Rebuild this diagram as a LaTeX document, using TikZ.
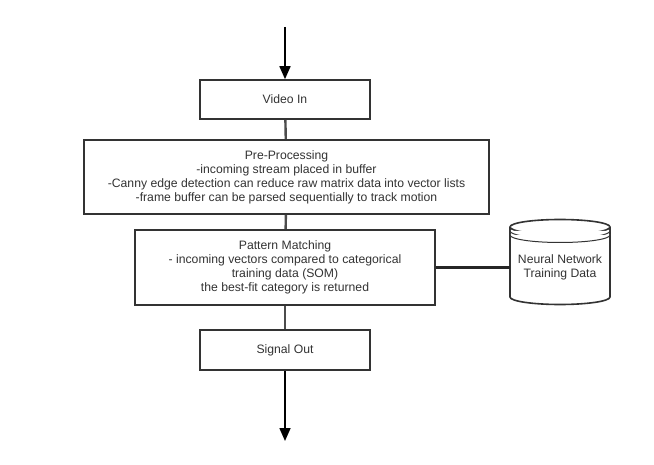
\documentclass[tikz,border=0pt]{standalone}
\usepackage{fontspec}
\setmainfont{Liberation Sans}
\usetikzlibrary{arrows.meta}
\tikzset{
	box/.style={draw=black!80,line width=1.6pt,fill=white,inner sep=0pt,align=center,text=black!80},
	link/.style={draw=black!70,line width=2.4pt},
	flow/.style={draw=black,line width=1.6pt,-{Triangle[width=11pt,length=13pt]}}
}
\begin{document}
\begin{tikzpicture}[x=1pt,y=-1pt,font=\fontsize{12.2}{14}\selectfont]
		\useasboundingbox [fill=white](0,0) rectangle (654,465);
		\coordinate (in) at (285,27);
		\coordinate (out) at (285,441);
		\node [box,minimum width=170pt,minimum height=39pt](video) at (285,99.5) {Video In};
		\node [box,minimum width=405pt,minimum height=74pt](pre) at (286.5,177) {Pre-Processing\\-incoming stream placed in buffer\\-Canny edge detection can reduce raw matrix data into vector lists\\-frame buffer can be parsed sequentially to track motion};
		\node [box,minimum width=300pt,minimum height=75pt](pat) at (285,267.5) {Pattern Matching\\- incoming vectors compared to categorical\\training data (SOM)\\the best-fit category is returned};
		\node [box,minimum width=170pt,minimum height=40pt](sig) at (285,350) {Signal Out};
		% database
		\draw [box](510,227)--(510,297) arc[start angle=180,end angle=0,x radius=50,y radius=7.5]--(610,227) arc[start angle=0,end angle=-180,x radius=50,y radius=7.5]--cycle;
		\draw [box](510,227) arc[start angle=180,end angle=0,x radius=50,y radius=7.5];
		\draw [box,line width=1pt](510,231) arc[start angle=180,end angle=0,x radius=50,y radius=7.5];
		\draw [box,line width=1pt](510,235) arc[start angle=180,end angle=0,x radius=50,y radius=7.5];
		\node [inner sep=0pt,minimum width=100pt,align=center,text=black!80](db) at (560,267.5) {Neural Network\\Training Data};
		% connectors
		\draw [link](video)--(pre);
		\draw [link](pre)--(pat);
		\draw [link](pat)--(sig);
		\draw [link,draw=black!85,line width=2.2pt](pat.east)--(db.west);
		\draw [flow](in)--(video.north);
		\draw [flow](sig.south)--(out);
		
		\end{tikzpicture}
\end{document}
